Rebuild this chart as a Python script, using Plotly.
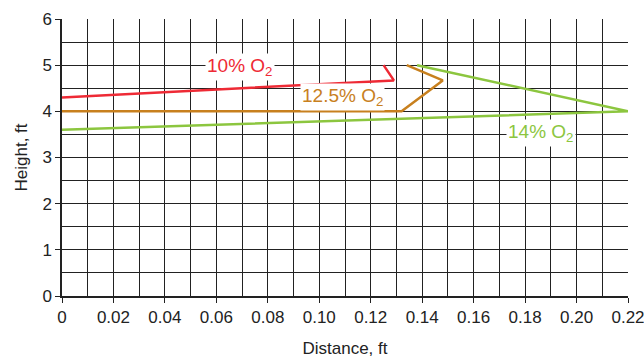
import plotly.graph_objects as go

# Data
red_x = [0.0, 0.129, 0.125]
red_y = [4.3, 4.67, 5.0]
orange_x = [0.0, 0.132, 0.148, 0.134]
orange_y = [4.0, 4.0, 4.67, 5.0]
green_x = [0.0, 0.22, 0.138]
green_y = [3.6, 4.0, 5.0]

labels = ["10% O<sub>2</sub>", "12.5% O<sub>2</sub>", "14% O<sub>2</sub>"]
label_x = [0.069, 0.109, 0.186]
label_y = [4.96, 4.31, 3.53]
colors = ["#ee2a35", "#c8801e", "#8cc63f"]

x_tickvals = [0, 0.02, 0.04, 0.06, 0.08, 0.10, 0.12, 0.14, 0.16, 0.18, 0.20, 0.22]
x_ticktext = ["0", "0.02", "0.04", "0.06", "0.08", "0.10", "0.12", "0.14", "0.16", "0.18", "0.20", "0.22"]
y_tickvals = [0, 1, 2, 3, 4, 5, 6]

fig = go.Figure()
for xs, ys, c in [(red_x, red_y, colors[0]), (orange_x, orange_y, colors[1]), (green_x, green_y, colors[2])]:
    fig.add_trace(go.Scatter(x=xs, y=ys, mode="lines", line=dict(color=c, width=2.5),
                             showlegend=False, hoverinfo="skip"))

for t, lx, ly, c in zip(labels, label_x, label_y, colors):
    fig.add_annotation(x=lx, y=ly, text=t, showarrow=False, bgcolor="white",
                       font=dict(color=c, size=19, family="Liberation Sans, Arial"),
                       borderpad=1)

font = dict(family="Liberation Sans, Arial", size=17, color="#222")
fig.update_layout(
    width=644, height=358,
    margin=dict(l=62, r=16, t=19, b=62),
    paper_bgcolor="white", plot_bgcolor="white",
    font=font,
    xaxis=dict(range=[0, 0.22], tickvals=x_tickvals, ticktext=x_ticktext,
               automargin=False, ticklabeloverflow="allow",
               showgrid=True, gridcolor="#222", gridwidth=1,
               minor=dict(dtick=0.01, showgrid=True, gridcolor="#222", gridwidth=1),
               showline=True, linecolor="#222", linewidth=1.5,
               ticks="outside", ticklen=5, tickcolor="#222",
               title=dict(text="Distance, ft", standoff=16, font=dict(size=17)), zeroline=False),
    yaxis=dict(range=[0, 6], tickvals=y_tickvals,
               automargin=False, ticklabeloverflow="allow",
               showgrid=True, gridcolor="#222", gridwidth=1,
               minor=dict(dtick=0.5, showgrid=True, gridcolor="#222", gridwidth=1),
               showline=True, linecolor="#222", linewidth=1.5,
               ticks="outside", ticklen=5, tickcolor="#222",
               title=dict(text="Height, ft", standoff=10, font=dict(size=17)), zeroline=False),
)

fig.write_html("out.html", config={"displayModeBar": False},
               post_script="document.body.style.margin='0';document.body.style.overflow='hidden';")
